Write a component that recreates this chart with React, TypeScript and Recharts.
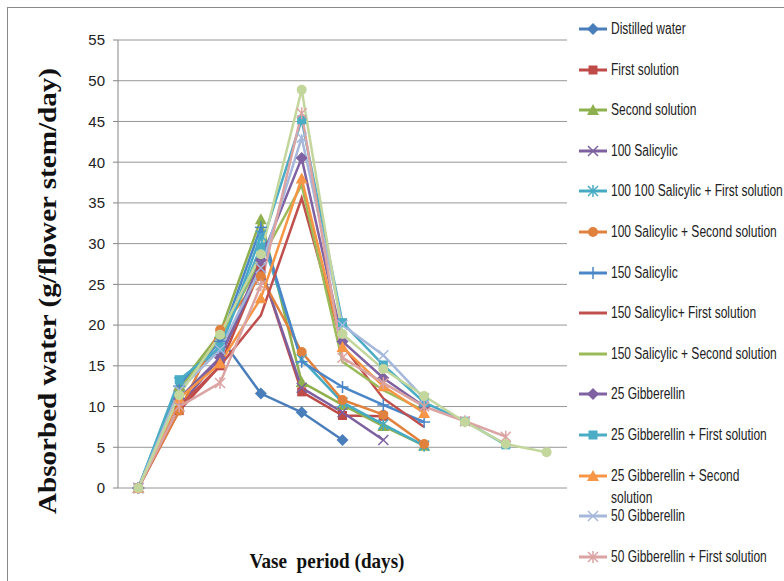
import React from "react";
import { LineChart, Line, XAxis, YAxis, CartesianGrid } from "recharts";

// vase period in days, one point every 2 days
const days = [0, 2, 4, 6, 8, 10, 12, 14, 16, 18, 20];
const yTicks = [0, 5, 10, 15, 20, 25, 30, 35, 40, 45, 50, 55];
const minorTicks = [-1, 1, 3, 5, 7, 9, 11, 13, 15, 17, 19, 21];

// absorbed water (g/flower stem/day)
const distilledWater = [0, 12, 18.5, 11.6, 9.3, 5.9];
const firstSolution = [0, 9.5, 15, 27, 11.8, 8.9, 8.8];
const secondSolution = [0, 12.5, 19, 33, 13, 10.2, 7.6, 5.2];
const salicylic100 = [0, 10, 16, 27, 12.3, 9.3, 5.9];
const salicylic100First = [0, 13, 17, 31, 15.8, 10.5, 7.8, 5.2];
const salicylic100Second = [0, 9.5, 19.4, 26, 16.7, 10.8, 9, 5.4];
const salicylic150 = [0, 12.5, 18, 32, 15.5, 12.4, 10.2, 8.1];
const salicylic150First = [0, 10, 15, 21.2, 35.6, 17.5, 11, 7.5];
const salicylic150Second = [0, 12, 18.5, 28, 37.2, 15.5, 12, 9.5];
const gibberellin25 = [0, 11, 16, 28, 40.5, 18, 13.5, 10];
const gibberellin25First = [0, 13.3, 17.3, 29.6, 45.2, 20.3, 15.1, 10.5, 8.2, 5.3];
const gibberellin25Second = [0, 11, 15.3, 23.3, 38, 17.3, 12.5, 9.2];
const gibberellin50 = [0, 12, 17, 27, 43, 20, 16.3, 11];
const gibberellin50First = [0, 10, 12.9, 24.9, 46, 16, 12.9, 10, 8.2, 6.3];
const gibberellin50Second = [0, 11.4, 18.8, 28.7, 48.9, 18.9, 14.6, 11.3, 8.1, 5.4, 4.4];

type Marker = "diamond" | "square" | "triangle" | "x" | "star" | "circle" | "plus" | "none";

const series: { name: string; values: number[]; color: string; marker: Marker }[] = [
  { name: "Distilled water", values: distilledWater, color: "#4a7ebb", marker: "diamond" },
  { name: "First solution", values: firstSolution, color: "#be4b48", marker: "square" },
  { name: "Second solution", values: secondSolution, color: "#8fb04e", marker: "triangle" },
  { name: "100 Salicylic", values: salicylic100, color: "#7d60a0", marker: "x" },
  { name: "100 100 Salicylic + First solution", values: salicylic100First, color: "#46aac5", marker: "star" },
  { name: "100 Salicylic + Second solution", values: salicylic100Second, color: "#e0823d", marker: "circle" },
  { name: "150 Salicylic", values: salicylic150, color: "#4a86c8", marker: "plus" },
  { name: "150 Salicylic+ First solution", values: salicylic150First, color: "#c0504d", marker: "none" },
  { name: "150 Salicylic + Second solution", values: salicylic150Second, color: "#9bbb59", marker: "none" },
  { name: "25 Gibberellin", values: gibberellin25, color: "#7e62a1", marker: "diamond" },
  { name: "25 Gibberellin + First solution", values: gibberellin25First, color: "#4bacc6", marker: "square" },
  { name: "25 Gibberellin + Second solution", values: gibberellin25Second, color: "#f79646", marker: "triangle" },
  { name: "50 Gibberellin", values: gibberellin50, color: "#a5b8dc", marker: "x" },
  { name: "50 Gibberellin + First solution", values: gibberellin50First, color: "#dba3a2", marker: "star" },
  { name: "50 Gibberellin + Second solution", values: gibberellin50Second, color: "#c3d69b", marker: "circle" },
];

// the legend box in the figure is cut off after 14 entries
const legendCount = 14;

const rows = days.map((day, i) => {
  const row: Record<string, number | null> = { day };
  series.forEach((s, k) => {
    row["s" + k] = i < s.values.length ? s.values[i] : null;
  });
  return row;
});

const FONT = '"Liberation Sans", Arial, sans-serif';
const NARROW = 0.75;

function markerShape(marker: Marker, color: string, cx: number, cy: number, key?: React.Key) {
  const r = 5;
  switch (marker) {
    case "diamond":
      return <polygon key={key} points={`${cx},${cy - r - 1} ${cx + r + 1},${cy} ${cx},${cy + r + 1} ${cx - r - 1},${cy}`} fill={color} />;
    case "square":
      return <rect key={key} x={cx - r + 0.5} y={cy - r + 0.5} width={2 * r - 1} height={2 * r - 1} fill={color} />;
    case "triangle":
      return <polygon key={key} points={`${cx},${cy - r - 1} ${cx + r + 1},${cy + r} ${cx - r - 1},${cy + r}`} fill={color} />;
    case "circle":
      return <circle key={key} cx={cx} cy={cy} r={r} fill={color} />;
    case "x":
      return (
        <g key={key} stroke={color} strokeWidth={1.5}>
          <line x1={cx - r} y1={cy - r} x2={cx + r} y2={cy + r} />
          <line x1={cx - r} y1={cy + r} x2={cx + r} y2={cy - r} />
        </g>
      );
    case "star":
      return (
        <g key={key} stroke={color} strokeWidth={1.5}>
          <line x1={cx - r} y1={cy - r} x2={cx + r} y2={cy + r} />
          <line x1={cx - r} y1={cy + r} x2={cx + r} y2={cy - r} />
          <line x1={cx} y1={cy - r - 1} x2={cx} y2={cy + r + 1} />
        </g>
      );
    case "plus":
      return (
        <g key={key} stroke={color} strokeWidth={1.5}>
          <line x1={cx - r - 1} y1={cy} x2={cx + r + 1} y2={cy} />
          <line x1={cx} y1={cy - r - 1} x2={cx} y2={cy + r + 1} />
        </g>
      );
    default:
      return <g key={key} />;
  }
}

function makeDot(marker: Marker, color: string) {
  return (p: any) => {
    if (p.cx == null || p.cy == null || p.value == null) return <g key={p.index} />;
    return markerShape(marker, color, p.cx, p.cy, p.index);
  };
}

function LegendBox() {
  return (
    <div style={{ position: "absolute", left: 0, top: 0 }}>
      {series.slice(0, legendCount).map((s, i) => {
        const cy = 29 + i * 40.6;
        return (
          <div key={s.name}>
            <svg width={30} height={14} style={{ position: "absolute", left: 578, top: cy - 7 }}>
              <line x1={1} y1={7} x2={29} y2={7} stroke={s.color} strokeWidth={3} />
              {markerShape(s.marker, s.color, 15, 7)}
            </svg>
            <div
              style={{
                position: "absolute",
                left: 611,
                top: cy - 11,
                width: 172.6 / NARROW,
                lineHeight: "22px",
                fontSize: 16,
                fontFamily: FONT,
                color: "#222",
                transform: `scaleX(${NARROW})`,
                transformOrigin: "left top",
              }}
            >
              {s.name}
            </div>
          </div>
        );
      })}
    </div>
  );
}

export default function App() {
  return (
    <div
      style={{
        position: "absolute",
        left: 0,
        top: 0,
        width: 784,
        height: 581,
        overflow: "hidden",
        background: "#fff",
      }}
    >
      <div
        style={{
          position: "absolute",
          left: 7,
          top: 7,
          width: 820,
          height: 620,
          border: "1px solid #8a8a8a",
          boxSizing: "border-box",
        }}
      />
      <LineChart
        width={784}
        height={581}
        data={rows}
        margin={{ top: 40, right: 217, bottom: 93, left: 78 }}
        style={{ position: "absolute", left: 0, top: 0 }}
      >
        <CartesianGrid vertical={false} stroke="#969696" />
        <XAxis
          dataKey="day"
          type="number"
          domain={[-1, 21]}
          ticks={days}
          height={0}
          tickLine={false}
          tickSize={6}
          tickMargin={13}
          axisLine={{ stroke: "#868686" }}
          tick={{ fontSize: 15, fill: "#222", fontFamily: FONT }}
          interval={0}
        />
        <XAxis
          xAxisId="minor"
          dataKey="day"
          type="number"
          domain={[-1, 21]}
          ticks={minorTicks}
          height={0}
          tickSize={5}
          tick={false}
          axisLine={false}
          tickLine={{ stroke: "#868686" }}
          interval={0}
        />
        <YAxis
          type="number"
          domain={[0, 55]}
          ticks={yTicks}
          width={40}
          tickSize={5}
          tickMargin={8}
          axisLine={{ stroke: "#868686" }}
          tickLine={{ stroke: "#868686" }}
          tick={{ fontSize: 15, fill: "#222", fontFamily: FONT }}
          interval={0}
        />
        {series.map((s, k) => (
          <Line
            key={s.name}
            type="linear"
            dataKey={"s" + k}
            name={s.name}
            stroke={s.color}
            strokeWidth={2.5}
            dot={s.marker === "none" ? false : makeDot(s.marker, s.color)}
            activeDot={false}
            isAnimationActive={false}
          />
        ))}
      </LineChart>
      <svg width={784} height={581} style={{ position: "absolute", left: 0, top: 0, pointerEvents: "none" }}>
        <text
          x={0}
          y={0}
          transform="translate(56 291) rotate(-90)"
          textAnchor="middle"
          fontFamily='"Liberation Serif", "Times New Roman", serif'
          fontWeight="bold"
          fontSize={25}
          textLength={446}
          lengthAdjust="spacingAndGlyphs"
          fill="#111"
        >
          Absorbed water (g/flower stem/day)
        </text>
        <text
          x={327}
          y={568}
          textAnchor="middle"
          fontFamily='"Liberation Serif", "Times New Roman", serif'
          fontWeight="bold"
          fontSize={22}
          textLength={155}
          lengthAdjust="spacingAndGlyphs"
          fill="#111"
          style={{ whiteSpace: "pre" }}
        >
          {"Vase  period (days)"}
        </text>
      </svg>
      <LegendBox />
    </div>
  );
}
